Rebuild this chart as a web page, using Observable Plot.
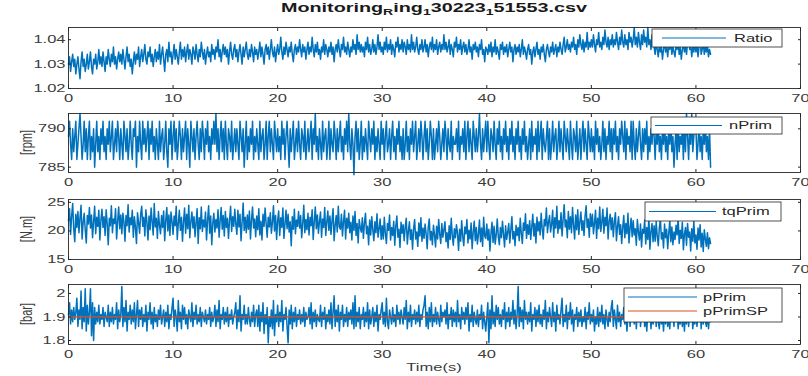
<!DOCTYPE html>
<html>
<head>
<meta charset="utf-8">
<script src="https://cdn.jsdelivr.net/npm/d3@7"></script>
<script src="https://cdn.jsdelivr.net/npm/@observablehq/plot@0.6"></script>
<style>
  body { margin: 0; background: #fff; }
  #fig { position: relative; width: 808px; height: 376px; overflow: hidden; background: #fff;
         font-family: "Liberation Sans", Arial, sans-serif; }
  #fig svg { position: absolute; left: 0; overflow: visible; }
</style>
</head>
<body>
<div id="fig"></div>
<script>
// ---------------- data ----------------
const sampleStep = 0.1; // seconds between samples (one row below = 1 s)
const xTicks = [0, 10, 20, 30, 40, 50, 60, 70];

const ratio = [
  1.030,1.033,1.027,1.031,1.034,1.029,1.032,1.026,1.030,1.033,
  1.028,1.024,1.031,1.035,1.029,1.032,1.027,1.030,1.034,1.028,
  1.031,1.035,1.029,1.026,1.032,1.030,1.034,1.028,1.031,1.036,
  1.030,1.033,1.029,1.035,1.031,1.027,1.033,1.030,1.036,1.032,
  1.029,1.034,1.031,1.037,1.030,1.033,1.028,1.032,1.035,1.031,
  1.034,1.030,1.036,1.032,1.028,1.033,1.037,1.031,1.034,1.029,
  1.032,1.026,1.031,1.035,1.030,1.034,1.032,1.037,1.029,1.033,
  1.036,1.031,1.034,1.038,1.032,1.030,1.035,1.033,1.037,1.031,
  1.034,1.029,1.033,1.036,1.031,1.035,1.032,1.038,1.030,1.034,
  1.037,1.032,1.027,1.034,1.036,1.031,1.039,1.033,1.035,1.030,
  1.034,1.038,1.032,1.036,1.033,1.030,1.035,1.039,1.032,1.036,
  1.033,1.037,1.031,1.035,1.038,1.032,1.036,1.034,1.030,1.037,
  1.035,1.032,1.038,1.034,1.031,1.036,1.033,1.039,1.035,1.032,
  1.036,1.030,1.034,1.037,1.033,1.035,1.031,1.038,1.034,1.036,
  1.032,1.037,1.035,1.040,1.033,1.036,1.031,1.035,1.038,1.034,
  1.037,1.033,1.036,1.030,1.035,1.039,1.034,1.032,1.036,1.038,
  1.033,1.036,1.031,1.035,1.038,1.034,1.030,1.037,1.033,1.036,
  1.039,1.034,1.032,1.036,1.033,1.038,1.035,1.031,1.037,1.034,
  1.036,1.032,1.035,1.039,1.033,1.037,1.034,1.030,1.036,1.038,
  1.034,1.037,1.032,1.036,1.040,1.035,1.033,1.037,1.031,1.035,
  1.038,1.034,1.036,1.041,1.035,1.032,1.037,1.034,1.039,1.036,
  1.033,1.037,1.035,1.039,1.034,1.031,1.036,1.038,1.034,1.037,
  1.035,1.040,1.036,1.033,1.038,1.035,1.037,1.032,1.036,1.039,
  1.034,1.037,1.035,1.041,1.036,1.033,1.038,1.035,1.039,1.034,
  1.036,1.032,1.037,1.035,1.040,1.034,1.038,1.036,1.033,1.037,
  1.035,1.039,1.034,1.037,1.031,1.036,1.038,1.035,1.040,1.036,
  1.033,1.038,1.036,1.041,1.035,1.037,1.034,1.039,1.036,1.033,
  1.037,1.035,1.040,1.036,1.038,1.034,1.042,1.036,1.039,1.035,
  1.038,1.035,1.037,1.033,1.039,1.036,1.041,1.035,1.038,1.034,
  1.036,1.040,1.035,1.038,1.034,1.037,1.042,1.036,1.039,1.035,
  1.037,1.034,1.039,1.036,1.041,1.035,1.038,1.036,1.040,1.034,
  1.038,1.036,1.033,1.039,1.037,1.041,1.035,1.038,1.036,1.040,
  1.035,1.039,1.037,1.034,1.040,1.036,1.038,1.035,1.042,1.036,
  1.039,1.035,1.037,1.041,1.036,1.034,1.038,1.036,1.040,1.035,
  1.037,1.040,1.035,1.038,1.033,1.037,1.039,1.036,1.041,1.035,
  1.038,1.036,1.040,1.034,1.037,1.039,1.035,1.038,1.036,1.042,
  1.036,1.039,1.035,1.037,1.040,1.034,1.038,1.036,1.033,1.039,
  1.037,1.041,1.035,1.038,1.036,1.040,1.034,1.037,1.039,1.035,
  1.038,1.034,1.036,1.040,1.035,1.037,1.032,1.038,1.036,1.039,
  1.035,1.037,1.033,1.038,1.036,1.040,1.034,1.036,1.031,1.037,
  1.036,1.034,1.038,1.035,1.039,1.033,1.037,1.035,1.040,1.034,
  1.037,1.035,1.032,1.038,1.036,1.039,1.034,1.037,1.035,1.038,
  1.033,1.036,1.039,1.035,1.037,1.031,1.036,1.038,1.034,1.037,
  1.035,1.038,1.033,1.036,1.040,1.034,1.037,1.035,1.032,1.036,
  1.038,1.034,1.036,1.030,1.035,1.037,1.033,1.036,1.039,1.034,
  1.036,1.032,1.037,1.035,1.038,1.034,1.031,1.036,1.038,1.035,
  1.033,1.037,1.035,1.039,1.034,1.036,1.038,1.033,1.037,1.035,
  1.039,1.036,1.034,1.038,1.041,1.035,1.037,1.040,1.036,1.038,
  1.035,1.039,1.037,1.041,1.036,1.038,1.034,1.040,1.037,1.042,
  1.038,1.036,1.040,1.035,1.039,1.037,1.043,1.036,1.039,1.037,
  1.040,1.037,1.042,1.038,1.035,1.040,1.038,1.043,1.037,1.039,
  1.036,1.041,1.038,1.044,1.039,1.037,1.041,1.036,1.040,1.038,
  1.042,1.037,1.040,1.038,1.043,1.039,1.036,1.041,1.038,1.044,
  1.039,1.037,1.042,1.038,1.040,1.036,1.043,1.039,1.041,1.037,
  1.040,1.045,1.038,1.041,1.037,1.043,1.039,1.036,1.042,1.038,
  1.044,1.039,1.041,1.037,1.045,1.038,1.040,1.036,1.042,1.039,
  1.037,1.034,1.039,1.036,1.033,1.038,1.035,1.037,1.032,1.036,
  1.039,1.035,1.037,1.033,1.038,1.036,1.040,1.034,1.037,1.035,
  1.033,1.038,1.036,1.039,1.034,1.037,1.032,1.036,1.038,1.035,
  1.037,1.034,1.039,1.044,1.036,1.038,1.033,1.037,1.035,1.039,
  1.035,1.038,1.033,1.037,1.041,1.034,1.036,1.039,1.034,1.037,
  1.035,1.038,1.033,1.036,1.034
];

const nPrim = [
  789,791,788,786,790,787,789,791,786,788,
  790,792,789,786,788,791,787,790,786,789,
  791,786,789,787,790,785,788,791,787,789,
  786,790,788,791,787,789,786,790,788,791,
  787,789,791,786,788,790,787,791,789,786,
  790,788,786,791,789,787,790,786,788,791,
  788,786,790,789,791,785,789,787,791,788,
  786,791,788,790,787,789,791,786,790,788,
  791,787,789,786,790,788,786,791,787,789,
  790,786,788,791,787,785,790,788,791,786,
  789,791,787,790,786,788,791,789,786,790,
  787,789,791,786,790,788,785,791,789,787,
  790,786,789,791,788,786,790,787,791,789,
  786,790,788,791,787,789,786,790,788,791,
  788,792,787,790,786,789,791,787,790,786,
  791,788,786,790,789,787,791,786,788,790,
  787,790,788,786,791,789,787,790,785,788,
  791,786,789,787,790,788,791,786,789,787,
  790,788,786,791,787,789,790,786,788,791,
  786,789,791,787,790,788,786,791,789,787,
  790,787,789,786,791,788,790,786,789,791,
  788,785,790,787,789,791,786,788,790,787,
  791,788,786,790,789,787,791,786,788,790,
  787,789,791,786,790,788,792,787,789,786,
  790,788,786,791,787,789,790,786,788,791,
  786,790,788,787,791,789,786,790,787,789,
  791,787,789,786,790,788,791,787,792,788,
  786,790,788,784,789,791,787,790,786,788,
  791,786,789,787,790,788,786,791,789,787,
  790,788,791,786,789,787,790,788,786,791,
  788,790,786,789,791,787,788,790,786,789,
  791,787,789,786,790,788,791,787,789,786,
  790,786,788,791,787,789,786,790,788,791,
  787,789,791,786,788,790,787,791,789,786,
  789,791,787,790,786,788,791,789,786,790,
  786,788,790,787,791,789,786,788,790,787,
  791,789,786,790,788,787,791,786,789,788,
  788,790,787,791,786,789,788,790,787,791,
  786,789,791,787,790,788,786,791,789,787,
  790,787,789,792,788,786,790,787,789,791,
  787,791,788,786,790,789,787,791,788,786,
  790,788,791,787,789,786,790,788,791,787,
  789,786,790,788,791,787,789,786,790,788,
  791,787,789,786,790,788,791,787,789,786,
  788,790,786,791,787,789,788,790,786,791,
  787,789,791,786,790,788,787,789,791,786,
  790,786,788,791,787,789,790,786,788,791,
  787,790,788,786,791,789,787,790,788,786,
  791,788,786,790,789,787,791,786,788,790,
  786,789,791,787,790,788,786,791,789,787,
  790,787,789,786,791,788,790,787,789,786,
  788,791,787,790,786,789,788,791,787,790,
  786,790,788,791,787,789,786,790,788,791,
  789,787,791,786,790,788,789,787,791,786,
  791,788,786,790,787,789,791,788,786,790,
  787,790,788,791,786,789,787,790,788,791,
  789,786,790,788,791,787,789,786,790,788,
  791,787,789,786,790,788,791,787,789,785,
  788,790,786,791,787,789,788,790,786,791,
  787,792,789,786,790,788,792,787,789,791,
  790,786,788,791,787,789,786,790,788,791,
  787,789,786,790,785
];

const tqPrim = [
  21.8,23.9,19.4,22.6,24.8,20.3,18.1,22.9,20.6,23.4,
  19.7,22.3,24.5,18.6,21.5,23.1,20.2,17.9,22.7,21.2,
  24.1,20.5,22.8,18.8,21.6,24.3,19.5,22.4,20.8,23.6,
  18.4,21.9,23.8,20.6,22.5,19.2,23.7,21.3,17.6,22.2,
  20.9,24.4,19.7,22.1,21.3,23.9,18.6,21.7,24.2,20.4,
  22.8,19.5,23.1,21.6,18.2,22.7,20.9,24.6,19.8,22.3,
  21.1,23.6,18.9,22.5,20.7,17.8,23.2,21.4,19.6,22.9,
  24.3,20.8,22.4,19.1,23.7,21.5,18.4,22.6,20.2,24.0,
  21.6,19.3,24.8,20.7,22.2,18.7,23.4,21.0,19.5,22.7,
  20.6,23.5,18.3,21.8,24.1,20.0,22.8,19.2,23.3,21.7,
  19.4,22.6,20.9,24.3,18.5,21.4,23.6,20.1,22.4,18.2,
  21.7,24.0,19.6,22.9,20.4,24.5,18.8,21.6,23.3,20.5,
  22.5,19.0,21.5,23.9,17.8,22.3,20.4,24.2,19.9,21.9,
  20.7,23.3,18.4,21.9,24.4,19.6,22.6,17.6,21.4,23.1,
  19.8,22.0,20.5,23.7,18.9,21.8,24.1,20.3,22.7,19.1,
  23.4,20.6,22.2,18.7,21.9,24.3,19.9,22.5,20.8,23.8,
  21.2,19.4,23.6,20.7,22.9,18.3,21.5,24.9,20.1,22.4,
  19.7,22.8,20.3,23.5,18.6,21.9,24.2,20.5,22.1,19.0,
  22.6,20.2,23.9,19.3,21.7,18.4,22.9,20.8,24.0,21.3,
  18.9,22.4,20.7,23.2,19.6,21.5,24.4,20.0,22.7,18.5,
  21.8,23.5,19.2,22.3,20.6,24.0,18.7,21.2,23.6,20.4,
  22.9,19.8,21.6,17.4,22.5,20.3,23.8,19.5,21.9,20.8,
  23.4,20.5,22.7,18.8,21.3,24.5,19.7,22.0,20.2,23.1,
  19.3,22.4,20.9,23.7,18.5,21.6,24.2,20.4,22.8,19.6,
  21.7,23.3,18.9,22.1,20.6,24.1,19.2,21.5,23.5,20.1,
  22.6,19.4,21.8,23.9,18.3,21.0,22.7,19.8,24.3,20.7,
  20.3,22.9,19.1,21.7,23.6,18.6,22.2,20.5,23.1,19.7,
  21.5,18.4,22.6,20.1,23.4,19.2,21.3,17.9,22.0,20.6,
  19.8,22.3,18.7,21.4,23.1,19.5,20.8,17.6,21.9,19.3,
  22.5,20.2,18.3,21.6,19.7,23.0,18.9,20.4,22.1,18.5,
  20.9,18.6,22.4,19.5,17.8,21.3,20.1,22.8,18.4,20.6,
  19.2,21.7,17.5,20.8,22.6,18.9,20.3,17.1,21.5,19.6,
  21.1,18.3,20.7,22.2,17.7,19.9,21.6,18.5,20.2,16.8,
  20.4,22.0,18.6,19.8,17.3,21.4,19.1,22.3,18.2,20.5,
  18.7,21.2,19.5,16.9,20.6,22.1,18.4,19.9,17.6,21.0,
  19.3,17.2,20.8,18.6,22.0,19.4,17.8,21.3,18.9,20.2,
  21.6,18.1,19.7,17.0,20.9,18.5,22.2,19.2,17.5,20.4,
  18.8,21.1,19.6,16.6,20.3,18.2,21.8,19.0,17.4,20.7,
  19.5,22.0,17.9,20.1,18.6,21.4,16.9,19.8,21.7,18.3,
  20.6,17.7,19.4,21.9,18.1,20.5,17.3,22.4,19.1,18.7,
  21.2,18.4,20.3,16.5,19.6,21.5,18.0,20.8,17.7,19.3,
  22.1,19.0,17.6,20.6,18.8,21.7,19.4,17.2,20.9,18.5,
  19.8,21.3,17.9,20.2,22.5,18.6,19.9,17.4,21.0,19.2,
  20.6,18.3,22.2,19.5,17.8,21.4,20.1,23.0,18.7,21.1,
  19.4,21.8,18.5,20.7,22.9,19.1,21.3,17.9,22.4,20.0,
  21.6,19.3,23.1,20.4,18.6,22.0,20.9,24.0,19.7,21.5,
  22.7,19.8,21.2,23.6,18.9,22.3,20.5,24.3,19.6,21.8,
  20.4,23.2,19.1,22.0,24.6,20.7,21.9,18.8,23.4,20.3,
  22.5,19.7,24.1,21.0,18.6,22.8,20.2,23.7,19.4,21.6,
  23.3,20.1,21.8,19.2,22.6,24.4,20.6,22.1,18.9,23.0,
  20.8,22.9,19.5,21.4,23.6,18.7,22.2,20.4,24.2,19.9,
  21.5,23.8,19.6,22.4,20.9,24.0,18.6,21.7,22.9,20.2,
  22.3,19.0,21.6,23.2,18.3,20.8,22.5,19.4,21.1,17.8,
  20.6,22.7,18.8,21.3,19.5,23.1,17.9,20.5,22.2,19.0,
  21.8,19.3,20.4,17.5,22.0,19.8,18.4,21.2,17.2,20.3,
  19.6,21.9,17.7,20.6,18.5,22.4,16.8,19.9,21.3,18.1,
  20.9,18.2,21.6,19.1,17.4,20.5,22.1,18.6,19.7,17.0,
  21.2,18.8,20.3,16.9,19.5,21.8,18.1,20.7,17.6,19.8,
  18.5,21.0,19.3,22.2,17.8,20.1,18.7,21.5,16.7,19.4,
  20.6,17.5,21.3,18.9,19.8,16.5,20.4,18.2,21.7,17.9,
  19.3,16.8,20.5,18.4,21.1,17.2,19.6,16.4,20.2,18.6,
  17.3,19.7,16.9,18.8,17.8
];

const pPrim = [
  1.91,1.96,1.87,1.93,1.88,1.94,1.89,1.92,1.98,1.86,
  1.93,1.89,2.01,1.85,1.94,1.88,2.02,1.84,1.95,1.87,
  1.92,2.02,1.82,1.96,1.80,1.94,1.87,1.92,1.88,1.95,
  1.87,1.91,1.89,1.94,1.86,1.92,1.90,1.88,1.95,1.86,
  1.92,1.88,1.94,1.87,1.91,1.89,1.96,1.85,1.93,1.88,
  1.91,2.03,1.86,1.94,1.88,1.97,1.84,1.92,1.89,1.95,
  1.87,1.93,1.88,1.96,1.85,1.91,1.97,1.86,1.93,1.89,
  1.94,1.86,1.91,1.88,1.95,1.84,1.92,1.89,1.96,1.87,
  1.92,1.85,1.94,1.88,1.91,1.86,1.93,1.89,1.95,1.87,
  1.90,1.93,1.86,1.92,1.88,1.95,1.85,1.91,1.89,1.94,
  1.98,1.86,1.93,1.90,1.84,1.97,1.88,1.92,1.85,1.95,
  1.89,1.94,1.87,1.91,1.85,1.93,1.90,1.88,1.96,1.86,
  1.92,1.89,1.95,1.87,1.91,1.88,1.94,1.86,1.92,1.90,
  1.88,1.93,1.87,1.91,1.89,1.94,1.86,1.92,1.88,1.90,
  1.95,1.86,1.93,1.88,1.97,1.85,1.91,1.89,1.94,1.87,
  1.92,1.88,1.94,1.86,1.91,1.89,1.93,1.87,1.90,1.92,
  1.96,1.85,1.93,1.88,1.99,1.84,1.91,1.89,1.95,1.87,
  1.91,1.87,1.94,1.89,1.86,1.92,1.88,1.95,1.86,1.91,
  1.93,1.86,1.95,1.84,1.92,1.88,1.96,1.83,1.91,1.87,
  1.94,1.79,1.90,1.86,1.93,1.85,1.97,1.82,1.91,1.88,
  1.95,1.86,1.92,1.88,1.97,1.84,1.91,1.89,1.94,1.86,
  1.79,1.93,1.87,1.95,1.85,1.92,1.88,1.94,1.86,1.91,
  1.89,1.93,1.87,1.91,1.88,1.94,1.86,1.92,1.89,1.90,
  1.94,1.87,1.96,1.85,1.92,1.88,1.93,1.86,1.91,1.89,
  1.88,1.95,1.86,1.92,1.89,1.94,1.85,1.91,1.88,1.93,
  1.87,1.96,1.85,1.92,1.99,1.86,1.93,1.88,1.95,1.84,
  1.92,1.89,1.95,1.86,1.91,1.88,1.94,1.86,1.92,1.89,
  1.93,1.87,1.96,1.85,1.99,1.86,1.92,1.88,1.94,1.85,
  1.91,1.89,1.94,1.86,1.92,1.88,1.96,1.85,1.93,1.87,
  1.90,1.94,1.86,1.92,1.88,1.95,1.84,1.91,1.89,1.93,
  1.96,1.87,1.92,1.86,1.98,1.88,1.85,1.93,1.90,1.87,
  1.94,1.88,1.91,1.86,1.95,1.89,1.92,1.87,1.93,1.90,
  1.87,1.94,1.89,1.97,1.85,1.92,1.88,1.95,1.86,1.91,
  1.89,1.93,1.87,1.92,1.88,1.95,1.86,1.91,1.89,1.93,
  1.95,1.99,1.86,1.92,1.85,1.94,1.88,1.96,1.86,1.91,
  1.88,1.94,1.87,1.92,1.89,1.86,1.95,1.88,1.92,1.90,
  1.93,1.87,1.96,1.85,1.91,1.89,1.94,1.86,1.93,1.88,
  1.92,1.86,1.97,1.88,1.91,1.85,1.94,1.89,1.92,1.87,
  1.94,1.89,1.96,1.84,1.91,1.88,1.95,1.86,1.92,1.89,
  1.87,1.93,1.86,1.91,1.89,1.95,1.85,1.92,1.88,1.84,
  1.90,1.96,1.79,1.93,1.85,1.99,1.87,1.92,1.86,1.95,
  1.89,1.94,1.87,1.91,1.86,1.93,1.89,1.96,1.85,1.92,
  1.88,1.94,1.86,1.92,1.89,1.97,1.87,1.93,1.85,1.91,
  2.03,1.86,1.94,1.88,1.93,1.85,1.97,1.89,1.92,1.87,
  1.92,1.88,1.96,1.84,1.91,1.89,1.94,1.86,1.93,1.88,
  1.95,1.87,1.91,1.86,1.93,1.89,1.97,1.85,1.92,1.88,
  1.94,1.90,1.86,1.96,1.88,1.92,1.84,1.95,1.89,1.91,
  1.87,1.93,1.98,1.86,1.91,1.88,1.95,1.85,1.92,1.89,
  1.96,1.87,1.93,1.84,1.91,1.89,1.94,1.86,1.92,1.88,
  1.93,1.86,1.90,1.88,1.94,1.85,1.92,1.89,1.96,1.87,
  1.91,1.88,1.93,1.84,1.90,1.87,1.94,1.86,1.92,1.88,
  1.95,1.87,1.91,1.85,1.93,1.89,1.86,1.92,1.88,1.94,
  1.97,1.86,1.93,1.89,1.85,1.95,1.88,1.92,1.86,1.91,
  1.89,1.94,1.87,1.92,1.84,1.90,1.96,1.86,1.93,1.88,
  1.92,1.87,1.95,1.85,1.91,1.88,1.94,1.86,1.92,1.89,
  1.93,1.86,1.90,1.84,1.92,1.88,1.95,1.85,1.91,1.87,
  1.90,1.94,1.86,1.92,1.88,1.85,1.93,1.87,1.91,1.84,
  1.92,1.87,1.94,1.86,1.90,1.85,1.93,1.88,1.91,1.86,
  1.94,1.88,1.92,1.85,1.90,1.87,1.93,1.86,1.91,1.84,
  1.92,1.87,1.95,1.86,1.91,1.88,1.93,1.85,1.90,1.87,
  1.93,1.86,1.91,1.88,1.94,1.85,1.92,1.87,1.90,1.88,
  1.86,1.92,1.85,1.90,1.88
];

// setpoint (constant)
const pPrimSPTime = [0, 61.4];
const pPrimSPValue = [1.9, 1.9];

const seriesNames = ["Ratio", "nPrim", "tqPrim", "pPrim", "pPrimSP"];
const unitLabels = ["", "[rpm]", "[N.m]", "[bar]"];
const yTicksRatio = [1.02, 1.03, 1.04];
const yTicksN = [785, 790];
const yTicksTq = [15, 20, 25];
const yTicksP = [1.8, 1.9, 2];

// ---------------- styling / layout ----------------
const BLUE = "#0072BD", ORANGE = "#D95319", AXC = "#262626", TXT = "#3c3c3c";
const SX = 1.5;        // horizontal text stretch of the original figure
const FONT = "'Liberation Sans', Arial, sans-serif";
const fig = document.getElementById("fig");

function stretchTexts(root, sx) {
  root.querySelectorAll("text").forEach(t => {
    if (t.dataset.noStretch) return;
    const x = parseFloat(t.getAttribute("x")) || 0;
    t.removeAttribute("x");
    const tr = t.getAttribute("transform") || "";
    t.setAttribute("transform", `${tr} translate(${x},0) scale(${sx},1)`);
  });
}

const panels = [
  {values: ratio, yDomain: [1.02, 1.045], yTicks: yTicksRatio, unit: unitLabels[0],
   svgTop: 21, h: 86, mb: 19, legend: {box: [652, 29, 782, 47], line: [662, 726], tx: 734,
   items: [{name: seriesNames[0], color: BLUE, y: 38}]}},
  {values: nPrim, yDomain: [784.3, 792], yTicks: yTicksN, unit: unitLabels[1],
   svgTop: 107, h: 86, mb: 21, legend: {box: [651, 117, 782, 134], line: [655, 722], tx: 729,
   items: [{name: seriesNames[1], color: BLUE, y: 125.5}]}},
  {values: tqPrim, yDomain: [15, 25.5], yTicks: yTicksTq, unit: unitLabels[2],
   svgTop: 193, h: 85, mb: 19, legend: {box: [645, 202, 781, 221], line: [649, 716], tx: 722,
   items: [{name: seriesNames[2], color: BLUE, y: 211.5}]}},
  {values: pPrim, yDomain: [1.783, 2.038], yTicks: yTicksP, unit: unitLabels[3], setpoint: true,
   svgTop: 278, h: 98, mb: 32, legend: {box: [624, 288, 782, 322], line: [628, 697], tx: 703,
   items: [{name: seriesNames[3], color: BLUE, y: 297}, {name: seriesNames[4], color: ORANGE, y: 311}]}}
];

const MT = 6, ML = 68, MR = 8;

panels.forEach((p, idx) => {
  const data = p.values.map((v, i) => ({t: i * sampleStep, v}));
  const marks = [Plot.line(data, {x: "t", y: "v", stroke: BLUE, strokeWidth: 1.5})];
  if (p.setpoint) {
    const sp = pPrimSPTime.map((t, i) => ({t, v: pPrimSPValue[i]}));
    marks.push(Plot.line(sp, {x: "t", y: "v", stroke: ORANGE, strokeWidth: 1.2}));
  }
  marks.push(
    Plot.frame({stroke: AXC, strokeWidth: 0.9}),
    Plot.axisX({anchor: "bottom", ticks: xTicks, tickSize: -3, tickPadding: 9, stroke: AXC, fill: TXT,
                tickFormat: d => String(d), label: null, fontSize: 11}),
    Plot.axisX({anchor: "top", ticks: xTicks, tickSize: -3, stroke: AXC, tickFormat: () => "", label: null}),
    Plot.axisY({anchor: "left", ticks: p.yTicks, tickSize: -3, tickPadding: 6, stroke: AXC, fill: TXT,
                tickFormat: d => String(d), label: null, fontSize: 11}),
    Plot.axisY({anchor: "right", ticks: p.yTicks, tickSize: -3, stroke: AXC, tickFormat: () => "", label: null})
  );
  const svg = Plot.plot({
    width: 808, height: p.h,
    marginTop: MT, marginBottom: p.mb, marginLeft: ML, marginRight: MR,
    x: {domain: [0, 70]},
    y: {domain: p.yDomain},
    style: {fontFamily: FONT, fontSize: "11px", background: "transparent", overflow: "visible"},
    marks
  });
  svg.style.top = p.svgTop + "px";
  fig.appendChild(svg);

  const s = d3.select(svg);
  const top = p.svgTop;
  const frameTop = MT, frameBottom = p.h - p.mb;

  if (p.unit) {
    s.append("text")
      .attr("data-no-stretch", "1")
      .attr("transform", `translate(26,${(frameTop + frameBottom) / 2}) scale(${SX},1) rotate(-90)`)
      .attr("text-anchor", "middle").attr("dy", "0.35em")
      .attr("fill", TXT).attr("font-size", 11).attr("font-family", FONT)
      .text(p.unit);
  }

  const L = p.legend;
  const g = s.append("g");
  g.append("rect").attr("x", L.box[0]).attr("y", L.box[1] - top)
    .attr("width", L.box[2] - L.box[0]).attr("height", L.box[3] - L.box[1])
    .attr("fill", "#fff").attr("stroke", AXC).attr("stroke-width", 0.8);
  L.items.forEach(it => {
    g.append("line").attr("x1", L.line[0]).attr("x2", L.line[1])
      .attr("y1", it.y - top).attr("y2", it.y - top)
      .attr("stroke", it.color).attr("stroke-width", 1);
    g.append("text").attr("x", L.tx).attr("y", it.y - top).attr("dy", "0.35em")
      .attr("text-anchor", "start")
      .attr("fill", AXC).attr("font-size", 11).attr("font-family", FONT).text(it.name);
  });

  if (idx === panels.length - 1) {
    s.append("text").attr("x", 434).attr("y", 367 - top).attr("dy", "0.35em")
      .attr("text-anchor", "middle").attr("fill", TXT).attr("font-size", 11).attr("font-family", FONT)
      .text("Time(s)");
  }

  stretchTexts(svg, SX);
});

// title (TeX-style subscripts as rendered in the original figure)
const titleParts = [
  {t: "Monitoring"}, {t: "R", sub: true}, {t: "ing"}, {t: "1", sub: true},
  {t: "30223"}, {t: "1", sub: true}, {t: "51553.csv"}
];
const tsvg = d3.create("svg").attr("width", 808).attr("height", 21).style("top", "0px");
const tt = tsvg.append("text")
  .attr("transform", `translate(434,12) scale(1.65,1)`)
  .attr("text-anchor", "middle").attr("font-weight", "bold").attr("font-size", 12)
  .attr("font-family", FONT).attr("fill", "#1a1a1a");
let shifted = false;
titleParts.forEach(pt => {
  const ts = tt.append("tspan").text(pt.t);
  if (pt.sub && !shifted) { ts.attr("dy", 3).attr("font-size", 8.5); shifted = true; }
  else if (pt.sub) { ts.attr("font-size", 8.5); }
  else if (shifted) { ts.attr("dy", -3); shifted = false; }
});
fig.appendChild(tsvg.node());
</script>
</body>
</html>
